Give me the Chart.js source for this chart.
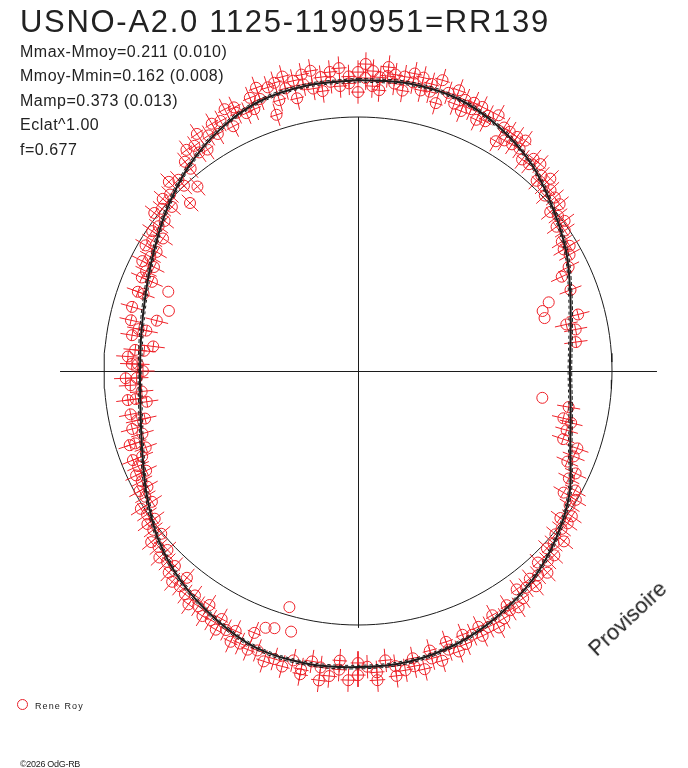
<!DOCTYPE html>
<html><head><meta charset="utf-8">
<script src="https://cdn.jsdelivr.net/npm/chart.js@4.4.1/dist/chart.umd.min.js"></script>
<style>
html,body{margin:0;padding:0;background:#fff;}
#wrap{position:relative;width:688px;height:768px;overflow:hidden;background:#fff;}
#c{position:absolute;left:0;top:0;}
.t{position:absolute;font-family:"Liberation Sans",Arial,sans-serif;color:#222;white-space:nowrap;line-height:1;}
.mk{position:absolute;width:9px;height:9px;border:1px solid #e8202a;border-radius:50%;}
</style></head><body>
<div id="wrap">
<canvas id="c" width="688" height="768"></canvas>
<div class="t" style="left:20px;top:6px;font-size:31px;letter-spacing:1.7px">USNO-A2.0 1125-1190951=RR139</div>
<div class="t" style="left:20px;top:44px;font-size:16px;letter-spacing:0.5px">Mmax-Mmoy=0.211 (0.010)</div>
<div class="t" style="left:20px;top:68px;font-size:16px;letter-spacing:0.5px">Mmoy-Mmin=0.162 (0.008)</div>
<div class="t" style="left:20px;top:92.5px;font-size:16px;letter-spacing:0.5px">Mamp=0.373 (0.013)</div>
<div class="t" style="left:20px;top:117px;font-size:16px;letter-spacing:0.5px">Eclat^1.00</div>
<div class="t" style="left:20px;top:141.5px;font-size:16px;letter-spacing:0.5px">f=0.677</div>
<div class="t" style="left:597px;top:639px;font-size:22px;transform-origin:0 18.6px;transform:rotate(-43deg)">Provisoire</div>
<div class="mk" style="left:17px;top:699px"></div>
<div class="t" style="left:35px;top:701.5px;font-size:9px;letter-spacing:1.1px">Rene Roy</div>
<div class="t" style="left:20px;top:759.5px;font-size:9px;letter-spacing:-0.3px">©2026 OdG-RB</div>
</div>
<script>
// Fitted light curve (phase, magnitude minus mean; positive = fainter = outward)
const fitPhase = [0.000,0.028,0.056,0.083,0.111,0.139,0.167,0.194,0.222,0.250,0.278,0.306,
  0.333,0.361,0.389,0.417,0.444,0.472,0.500,0.528,0.556,0.583,0.611,0.639,
  0.667,0.694,0.722,0.750,0.778,0.806,0.833,0.861,0.889,0.917,0.944,0.972];
const fitMag = [0.164,0.169,0.160,0.124,0.071,0.000,-0.062,-0.124,-0.169,-0.187,-0.169,-0.124,
  -0.044,0.022,0.080,0.124,0.160,0.182,0.187,0.191,0.182,0.142,0.093,0.031,
  -0.044,-0.107,-0.147,-0.160,-0.151,-0.124,-0.080,-0.018,0.049,0.107,0.147,0.160];

// Observations (Rene Roy) with error bars
const obsPhase = [
 .940,.940,.945,.945,.951,.951,.955,.955,.960,.960,.965,.965,
 .970,.970,.975,.975,.980,.980,.985,.985,.990,.990,.995,.995,
 .000,.000,.004,.004,.008,.008,.012,.012,.016,.016,.020,.020,
 .025,.025,.030,.030,.035,.035,.040,.040,.045,.045,.050,.055,.055,
 .060,.060,.065,.065,.070,.070,.075,.075,.080,.086,.086,.090,.090,
 .095,.095,.100,.100,.105,.110,.110,.115,.120,.120,.125,.125,
 .130,.130,.135,.140,.140,.145,.150,.150,.155,.160,.165,.165,.170,
 .177,.181,.192,.210,.215,.220,.229,
 .277,.286,.288,.294,.301,.304,.310,.315,.320,.325,.330,
 .335,.335,.340,.345,.350,.350,.355,.360,.360,.365,.370,.370,
 .375,.380,.380,.385,.390,.390,.395,.400,.400,.405,.410,.410,
 .415,.420,.420,.425,.430,.430,.435,.440,.440,.445,.450,.450,
 .455,.460,.460,.465,.470,.470,.475,.480,.480,.485,.490,.490,
 .495,.500,.500,.505,.510,.510,.515,.520,.520,.525,.530,.530,
 .535,.540,.545,.550,.555,.560,.560,.565,.570,.570,.575,
 .580,.580,.585,.590,.590,.595,.600,.600,.605,.610,.610,.615,
 .620,.620,.625,.630,.630,.635,.640,.640,.645,.650,.650,.655,
 .660,.660,.665,.670,.670,.675,.680,.680,.685,.690,.690,.695,
 .700,.700,.705,.710,.715,.715,.720,.727,.730,.730,.735,.740,
 .745,.745,.750,.755,.755,.760,.765,.765,.769,.775,.780,.780,
 .785,.789,.794,.805,.805,.815,.815,.820,.825,.825,.830,
 .835,.835,.840,.845,.845,.850,.855,.855,.860,.865,.865,.870,
 .875,.875,.880,.880,.886,.890,.890,.895,.900,.900,.905,.905,
 .910,.915,.915,.920,.925,.925,.930,.930,.935];
const obsMag = [
 .177,.123,.209,.156,.066,.194,.125,.205,.168,.222,.113,.193,
 .168,.212,.142,.222,.188,.125,.206,.162,.220,.140,.181,.150,
 .200,.111,.174,.236,.139,.206,.180,.123,.189,.229,.159,.199,
 .133,.196,.177,.217,.149,.207,.153,.188,.217,.111,.171,.134,.197,
 .167,.114,.170,.139,.105,.168,.144,.117,.168,.062,.133,.085,.130,
 .129,.089,.093,.137,.061,.095,.064,.097,.031,.062,.080,.036,
 .010,.045,.037,-.020,.034,-.004,-.038,.006,-.018,-.056,-.067,-.036,-.056,
 -.085,-.131,-.118,-.119,-.180,-.144,-.152,
 -.179,-.192,-.154,-.165,-.168,-.095,-.098,-.115,-.060,-.077,-.027,
 -.067,-.004,-.015,.020,-.017,.023,.016,.059,.010,.030,.068,.023,
 .064,.039,.101,.081,.113,.069,.090,.120,.071,.141,.104,.131,
 .148,.110,.172,.148,.172,.128,.148,.176,.132,.196,.173,.137,
 .212,.190,.154,.229,.171,.207,.218,.193,.237,.163,.213,.248,
 .186,.223,.169,.246,.201,.161,.233,.199,.257,.178,.221,.243,
 .189,.227,.204,.228,.191,.123,.203,.191,.148,.201,.163,
 .183,.129,.157,.103,.161,.135,.153,.104,.126,.064,.113,.120,
 .060,.100,.071,.082,.033,.053,.006,.064,.023,.028,-.012,.005,
 -.044,.014,-.031,-.021,-.061,-.050,-.088,-.039,-.064,-.097,-.053,-.126,
 -.088,-.062,-.131,-.093,-.124,-.159,-.100,-.180,-.133,-.098,-.163,-.116,
 -.145,-.096,-.173,-.123,-.150,-.104,-.174,-.134,-.212,-.112,-.136,-.171,
 -.095,-.207,-.085,-.116,-.089,-.131,-.082,-.088,-.111,-.053,-.076,
 -.032,-.089,-.046,-.081,-.023,-.034,.017,-.041,.002,-.026,.028,.017,
 -.073,.060,.037,.001,-.042,.078,.038,.115,.072,.108,.061,.145,
 .111,.148,.095,.139,.092,.177,.139,.166,.120];

// Observations plotted without error bars
const outPhase = [.195,.200,.206,.273,.540,.545,.550,.555,.799,.813];
const outMag = [-.228,-.266,-.267,-.301,.067,-.036,.073,.084,-.247,-.215];

const ERR_MAG = 0.052;    // magnitude error bar half-length
const ERR_PHASE = 0.004;  // phase error bar half-length

// polar mapping: mean magnitude on the unit circle
const MAG_SCALE = 0.886;
const HALF_PX = 0.5 / 254; // keeps the 1px axis lines crisp
function toXY(p, m) {
  const r = 1 + m * MAG_SCALE, a = 2 * Math.PI * p;
  return {x: r * Math.sin(a), y: r * Math.cos(a)};
}
const GAP = {x: NaN, y: NaN};

const fitPts = fitPhase.map((p, i) => toXY(p, fitMag[i])); fitPts.push(fitPts[0]);
const fitHi = fitPhase.map((p, i) => toXY(p, fitMag[i] + 0.008)); fitHi.push(fitHi[0]);
const fitLo = fitPhase.map((p, i) => toXY(p, fitMag[i] - 0.008)); fitLo.push(fitLo[0]);
const obsPts = obsPhase.map((p, i) => toXY(p, obsMag[i]));
const outPts = outPhase.map((p, i) => toXY(p, outMag[i]));
const errPts = [];
obsPhase.forEach((p, i) => {
  const m = obsMag[i];
  errPts.push(toXY(p, m - ERR_MAG), toXY(p, m + ERR_MAG), GAP);
  errPts.push(toXY(p - ERR_PHASE, m), toXY(p + ERR_PHASE, m), GAP);
});
const refCircle = [];
for (let k = 0; k <= 180; k++) refCircle.push(toXY(k / 180, 0));

const RED = '#ee2229', INK = '#1c1c1c';
new Chart(document.getElementById('c'), {
  type: 'scatter',
  data: {datasets: [
    {data: fitPts, showLine: true, borderColor: INK, borderWidth: 2, pointRadius: 0, tension: 0.35, order: 0},
    {data: fitHi, showLine: true, borderColor: INK, borderWidth: 1, borderDash: [4, 2], pointRadius: 0, tension: 0.35, order: 0},
    {data: fitLo, showLine: true, borderColor: INK, borderWidth: 1, borderDash: [3, 3], pointRadius: 0, tension: 0.35, order: 0},
    {data: obsPts, pointRadius: 5.5, pointStyle: 'circle', borderColor: RED, backgroundColor: 'rgba(0,0,0,0)', borderWidth: 1, order: 1},
    {data: outPts, pointRadius: 5.5, pointStyle: 'circle', borderColor: RED, backgroundColor: 'rgba(0,0,0,0)', borderWidth: 1, order: 1},
    {data: errPts, showLine: true, spanGaps: false, borderColor: RED, borderWidth: 1, pointRadius: 0, order: 2},
    {data: refCircle, showLine: true, borderColor: INK, borderWidth: 1, pointRadius: 0, order: 3},
    {data: [{x: -1.173, y: -HALF_PX}, {x: 1.177, y: -HALF_PX}], showLine: true, borderColor: INK, borderWidth: 1, pointRadius: 0, order: 3},
    {data: [{x: HALF_PX, y: 1.0}, {x: HALF_PX, y: -1.01}], showLine: true, borderColor: INK, borderWidth: 1, pointRadius: 0, order: 3}
  ]},
  options: {
    responsive: false, animation: false, events: [],
    layout: {padding: 0, autoPadding: false},
    plugins: {legend: {display: false}, tooltip: {enabled: false}, title: {display: false}},
    scales: {
      x: {type: 'linear', min: -358 / 254, max: 330 / 254, display: false},
      y: {type: 'linear', min: -397 / 254, max: 371 / 254, display: false}
    }
  }
});
</script>
</body></html>
